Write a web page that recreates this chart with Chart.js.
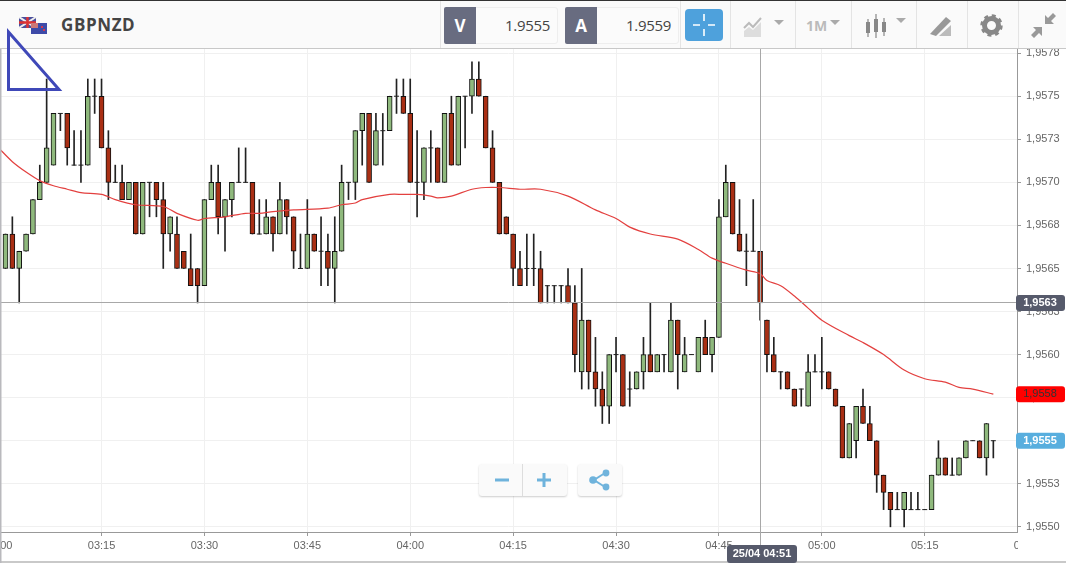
<!DOCTYPE html>
<html>
<head>
<meta charset="utf-8">
<title>GBPNZD</title>
<script src="https://cdn.jsdelivr.net/npm/chart.js@4"></script>
<style>
html, body { margin: 0; padding: 0; background: #fff; width: 1066px; height: 563px; overflow: hidden; font-family: "Open Sans", sans-serif; }
#chart { position: absolute; left: 0; top: 0; }
#topbar { position: absolute; left: 0; top: 0; width: 1066px; height: 47px; background: #fafafa; border-top: 1px solid #333; border-bottom: 1px solid #c8c8c8; box-sizing: content-box; }
.abs { position: absolute; }
.title { left: 61px; top: 12px; font-size: 17px; font-weight: 700; color: #444; letter-spacing: .6px; }
.sep { top: 0; width: 1px; height: 47px; background: #e4e4e4; }
.qbox { top: 6px; height: 35px; background: #fbfbfb; border: 1px solid #eee; border-radius: 3px; }
.qtag { top: 6px; width: 32px; height: 37px; background: #686c80; color: #fff; font-size: 17px; font-weight: 700; text-align: center; line-height: 37px; border-radius: 2px 0 0 2px; }
.qval { top: 14px; font-size: 15px; color: #444; text-align: right; letter-spacing: -.3px; }
.cross { left: 685px; top: 8px; width: 38px; height: 32px; background: #4ea1dc; border-radius: 4px; }
.btn { background: #fafafa; box-shadow: 0 1px 2px rgba(0,0,0,.2); border-radius: 3px; }
.tf { left: 806px; top: 15px; font-size: 14px; font-weight: 700; color: #bbb; }
</style>
</head>
<body>
<canvas id="chart" width="1066" height="563"></canvas>
<div id="topbar">
  <svg class="abs" style="left:19px;top:16px" width="29" height="17" viewBox="0 0 29 17">
    <rect x="0" y="0" width="17" height="11" fill="#4a4f9e"/>
    <path d="M0 0L17 11M17 0L0 11" stroke="#eee" stroke-width="2"/>
    <path d="M8.5 0V11M0 5.5H17" stroke="#d33" stroke-width="2.4"/>
    <rect x="12" y="6" width="16" height="11" fill="#3d4aa8"/>
    <rect x="12" y="6" width="7" height="5" fill="#c77"/>
    <circle cx="23" cy="10" r="1" fill="#f33"/><circle cx="25" cy="13" r="1" fill="#f33"/>
  </svg>
  <div class="abs title">GBPNZD</div>
  <div class="abs sep" style="left:440px"></div>
  <div class="abs qbox" style="left:444px;width:112px"></div>
  <div class="abs qtag" style="left:444px">V</div>
  <div class="abs qval" style="left:480px;width:70px">1.9555</div>
  <div class="abs qbox" style="left:565px;width:112px"></div>
  <div class="abs qtag" style="left:565px">A</div>
  <div class="abs qval" style="left:601px;width:70px">1.9559</div>
  <div class="abs sep" style="left:680px"></div>
  <div class="abs cross"></div>
  <svg class="abs" style="left:685px;top:8px" width="38" height="32"><path d="M19 5V12M19 20V27M8 16H15M23 16H30" stroke="#fff" stroke-width="1.6"/></svg>
  <div class="abs sep" style="left:730px"></div>
  <svg class="abs" style="left:743px;top:14px" width="45" height="22">
    <path d="M1 13L6 8L10 12L18 3" stroke="#bbb" stroke-width="2" fill="none"/>
    <path d="M1 22V16L6 12L10 15L18 7V22Z" fill="#ddd"/>
    <path d="M31 5H41L36 10Z" fill="#aaa"/>
  </svg>
  <div class="abs sep" style="left:795px"></div>
  <div class="abs tf">1M</div>
  <svg class="abs" style="left:829px;top:18px" width="14" height="8"><path d="M1 1H11L6 6Z" fill="#aaa"/></svg>
  <div class="abs sep" style="left:851px"></div>
  <svg class="abs" style="left:865px;top:12px" width="44" height="26" fill="#888">
    <rect x="1" y="9" width="4" height="11"/><rect x="2.4" y="6" width="1.2" height="18"/>
    <rect x="9" y="6" width="4" height="13"/><rect x="10.4" y="1" width="1.2" height="24"/>
    <rect x="17" y="9" width="4" height="10"/><rect x="18.4" y="5" width="1.2" height="18"/>
    <path d="M31 5H41L36 10Z" fill="#aaa"/>
  </svg>
  <div class="abs sep" style="left:916px"></div>
  <svg class="abs" style="left:929px;top:14px" width="24" height="22">
    <path d="M1 19L17 2L22 6L7 21Z" fill="#999"/><path d="M10 21L22 10V21Z" fill="#bbb"/>
  </svg>
  <div class="abs sep" style="left:967px"></div>
  <svg class="abs" style="left:980px;top:13px" width="23" height="23" viewBox="0 0 23 23">
    <circle cx="11.5" cy="11.5" r="7" fill="none" stroke="#888" stroke-width="5"/>
    <circle cx="11.5" cy="11.5" r="10" fill="none" stroke="#888" stroke-width="2.4" stroke-dasharray="4 3.85"/>
  </svg>
  <div class="abs sep" style="left:1018px"></div>
  <svg class="abs" style="left:1031px;top:12px" width="25" height="25" fill="#999">
    <path d="M14 11V2L17 5L22 0L25 3L20 8L23 11Z"/><path d="M11 14V23L8 20L3 25L0 22L5 17L2 14Z"/>
  </svg>
</div>
<svg class="abs" style="left:0;top:0" width="70" height="100">
  <path d="M8.5 32V89.5H59L8.5 32Z" fill="none" stroke="#3f48b8" stroke-width="3"/>
</svg>
<div class="abs btn" style="left:479px;top:464px;width:88px;height:32px"></div>
<div class="abs" style="left:522px;top:464px;width:1px;height:32px;background:#ddd"></div>
<svg class="abs" style="left:479px;top:464px" width="88" height="32"><path d="M16 16H30M58 16H72M65 9V23" stroke="#6fb3dc" stroke-width="3"/></svg>
<div class="abs btn" style="left:578px;top:464px;width:44px;height:32px"></div>
<svg class="abs" style="left:578px;top:464px" width="44" height="32">
  <path d="M27 9L16 16L27 23" stroke="#6fb3dc" stroke-width="2" fill="none"/>
  <circle cx="28" cy="9" r="3.4" fill="#6fb3dc"/><circle cx="15" cy="16" r="3.8" fill="#6fb3dc"/><circle cx="28" cy="23" r="3.4" fill="#6fb3dc"/>
</svg>
<script>
// one candle a minute, minutes counted from midnight
const candleMinutes = [181,182,183,184,185,186,187,188,189,190,191,192,193,194,195,196,197,198,199,200,
    201,202,203,204,205,206,207,208,209,210,211,212,213,214,215,216,217,218,219,220,
    221,222,223,224,225,226,227,228,229,230,231,232,233,234,235,236,237,238,239,240,
    241,242,243,244,245,246,247,248,249,250,251,252,253,254,255,256,257,258,259,260,
    261,262,263,264,265,266,267,268,269,270,271,272,273,274,275,276,277,278,279,280,
    281,282,283,284,285,286,287,288,289,290,291,292,293,294,295,296,297,298,299,300,
    301,302,303,304,305,306,307,308,309,310,311,312,313,314,315,316,317,318,319,320,
    321,322,323,324,325];

const opens = [1.9565,1.9567,1.9565,1.9566,1.9567,1.9569,1.9570,1.9571,1.9574,1.9574,
    1.9571,1.9571,1.9571,1.9575,1.9575,1.9572,1.9570,1.9570,1.9569,1.9570,
    1.9567,1.9570,1.9570,1.9569,1.9567,1.9567,1.9566,1.9565,1.9565,1.9564,
    1.9569,1.9570,1.9568,1.9569,1.9570,1.9570,1.9570,1.9567,1.9567,1.9568,
    1.9567,1.9569,1.9568,1.9565,1.9565,1.9567,1.9566,1.9566,1.9565,1.9566,
    1.9570,1.9570,1.9573,1.9574,1.9571,1.9573,1.9573,1.9575,1.9575,1.9574,
    1.9570,1.9570,1.9572,1.9572,1.9570,1.9574,1.9571,1.9575,1.9575,1.9576,
    1.9575,1.9572,1.9570,1.9568,1.9567,1.9565,1.9565,1.9565,1.9565,1.9564,
    1.9564,1.9564,1.9564,1.9563,1.9559,1.9562,1.9559,1.9558,1.9557,1.9560,
    1.9560,1.9558,1.9558,1.9559,1.9560,1.9559,1.9560,1.9559,1.9562,1.9559,
    1.9560,1.9559,1.9561,1.9560,1.9561,1.9568,1.9570,1.9567,1.9566,1.9566,
    1.9566,1.9562,1.9560,1.9559,1.9559,1.9558,1.9558,1.9557,1.9559,1.9559,
    1.9559,1.9558,1.9557,1.9554,1.9555,1.9557,1.9556,1.9555,1.9553,1.9552,
    1.9551,1.9551,1.9551,1.9551,1.9551,1.9551,1.9553,1.9554,1.9553,1.9553,
    1.9554,1.9555,1.9555,1.9554,1.9555];

const highs = [1.9567,1.9568,1.9566,1.9567,1.9569,1.9571,1.9576,1.9574,1.9574,1.9574,
    1.9573,1.9573,1.9576,1.9576,1.9576,1.9573,1.9571,1.9571,1.9570,1.9570,
    1.9570,1.9570,1.9570,1.9570,1.9568,1.9568,1.9566,1.9567,1.9565,1.9569,
    1.9571,1.9571,1.9569,1.9570,1.9572,1.9572,1.9570,1.9569,1.9569,1.9568,
    1.9570,1.9569,1.9568,1.9567,1.9569,1.9567,1.9568,1.9567,1.9568,1.9571,
    1.9570,1.9573,1.9574,1.9574,1.9574,1.9574,1.9575,1.9576,1.9576,1.9576,
    1.9573,1.9572,1.9573,1.9572,1.9574,1.9575,1.9575,1.9575,1.9577,1.9577,
    1.9575,1.9573,1.9570,1.9568,1.9567,1.9566,1.9567,1.9567,1.9566,1.9564,
    1.9564,1.9564,1.9565,1.9564,1.9565,1.9562,1.9561,1.9559,1.9560,1.9561,
    1.9560,1.9559,1.9559,1.9561,1.9563,1.9560,1.9560,1.9563,1.9562,1.9561,
    1.9560,1.9561,1.9562,1.9561,1.9569,1.9571,1.9570,1.9569,1.9567,1.9569,
    1.9566,1.9562,1.9561,1.9559,1.9559,1.9558,1.9558,1.9560,1.9560,1.9561,
    1.9559,1.9558,1.9557,1.9556,1.9557,1.9558,1.9557,1.9555,1.9553,1.9552,
    1.9552,1.9552,1.9552,1.9552,1.9551,1.9553,1.9555,1.9554,1.9554,1.9554,
    1.9555,1.9555,1.9555,1.9556,1.9555];

const lows = [1.9565,1.9565,1.9563,1.9566,1.9567,1.9569,1.9570,1.9571,1.9573,1.9571,
    1.9571,1.9570,1.9571,1.9574,1.9572,1.9569,1.9570,1.9569,1.9569,1.9567,
    1.9567,1.9568,1.9568,1.9565,1.9566,1.9565,1.9565,1.9564,1.9563,1.9564,
    1.9569,1.9567,1.9566,1.9568,1.9570,1.9570,1.9567,1.9567,1.9567,1.9566,
    1.9567,1.9567,1.9565,1.9565,1.9565,1.9566,1.9564,1.9564,1.9563,1.9566,
    1.9569,1.9569,1.9571,1.9570,1.9571,1.9571,1.9573,1.9574,1.9574,1.9570,
    1.9568,1.9569,1.9570,1.9570,1.9570,1.9571,1.9571,1.9572,1.9574,1.9575,
    1.9572,1.9570,1.9567,1.9567,1.9564,1.9564,1.9564,1.9564,1.9563,1.9563,
    1.9563,1.9563,1.9563,1.9559,1.9558,1.9558,1.9557,1.9556,1.9556,1.9559,
    1.9557,1.9557,1.9558,1.9558,1.9559,1.9559,1.9559,1.9559,1.9558,1.9559,
    1.9560,1.9559,1.9560,1.9559,1.9561,1.9568,1.9567,1.9566,1.9564,1.9566,
    1.9562,1.9559,1.9559,1.9558,1.9558,1.9557,1.9557,1.9557,1.9559,1.9558,
    1.9558,1.9557,1.9554,1.9554,1.9554,1.9556,1.9555,1.9552,1.9551,1.9550,
    1.9551,1.9550,1.9551,1.9551,1.9551,1.9551,1.9553,1.9553,1.9553,1.9553,
    1.9554,1.9555,1.9554,1.9553,1.9554];

const closes = [1.9567,1.9565,1.9566,1.9567,1.9569,1.9570,1.9572,1.9574,1.9574,1.9572,
    1.9571,1.9571,1.9575,1.9575,1.9572,1.9570,1.9570,1.9569,1.9570,1.9567,
    1.9570,1.9570,1.9569,1.9567,1.9568,1.9565,1.9565,1.9564,1.9564,1.9569,
    1.9570,1.9568,1.9569,1.9570,1.9570,1.9570,1.9567,1.9567,1.9568,1.9567,
    1.9569,1.9568,1.9566,1.9565,1.9567,1.9566,1.9566,1.9565,1.9566,1.9570,
    1.9570,1.9573,1.9574,1.9570,1.9573,1.9573,1.9575,1.9575,1.9574,1.9570,
    1.9570,1.9572,1.9572,1.9570,1.9574,1.9571,1.9575,1.9575,1.9576,1.9575,
    1.9572,1.9570,1.9567,1.9567,1.9565,1.9564,1.9565,1.9565,1.9563,1.9564,
    1.9564,1.9564,1.9563,1.9560,1.9562,1.9559,1.9558,1.9557,1.9560,1.9560,
    1.9557,1.9558,1.9559,1.9560,1.9559,1.9560,1.9560,1.9562,1.9560,1.9560,
    1.9560,1.9561,1.9560,1.9561,1.9568,1.9570,1.9567,1.9566,1.9566,1.9566,
    1.9563,1.9560,1.9559,1.9559,1.9558,1.9557,1.9558,1.9559,1.9559,1.9559,
    1.9558,1.9557,1.9554,1.9556,1.9557,1.9556,1.9555,1.9553,1.9552,1.9551,
    1.9551,1.9552,1.9551,1.9551,1.9551,1.9553,1.9554,1.9553,1.9553,1.9554,
    1.9555,1.9555,1.9554,1.9556,1.9555];

// moving average
const maMinutes = [180,182,184,186,188,190,192,195,197,200,204,206,209,210,213,216,218,220,223,228,
    230,232,233,237,239,241,243,244,246,249,251,253,256,259,263,267,270,272,275,279,
    282,284,286,289,291,292,294,296,298,300,304,306,309,312,315,318,320,322,325];
const maValues = [1.95720,1.95712,1.95706,1.95701,1.95698,1.95696,1.95694,1.95693,1.95690,1.95687,
    1.95686,1.95682,1.95678,1.95679,1.95680,1.95682,1.95682,1.95683,1.95684,1.95685,
    1.95687,1.95688,1.95690,1.95693,1.95693,1.95693,1.95692,1.95691,1.95692,1.95696,
    1.95697,1.95697,1.95696,1.95696,1.95692,1.95684,1.95679,1.95674,1.95670,1.95667,
    1.95661,1.95656,1.95653,1.95649,1.95647,1.95643,1.95640,1.95634,1.95627,1.95620,
    1.95611,1.95607,1.95600,1.95591,1.95586,1.95584,1.95581,1.95580,1.95577];

const xTickMinutes = [180,195,210,225,240,255,270,285,300,315,330];
const xTickLabels = ['03:00','03:15','03:30','03:45','04:00','04:15','04:30','04:45','05:00','05:15','05:30'];
const yTickValues = [1.9550,1.95525,1.9555,1.95575,1.9560,1.95625,1.9565,1.95675,1.9570,1.95725,1.9575,1.95775];
const yTickLabels = ['1,9550','1,9553','1,9555','1,9558','1,9560','1,9563','1,9565','1,9568','1,9570','1,9573','1,9575','1,9578'];

const crossMinute = 291;
const crossPrice = 1.9563;
const crossTime = '25/04 04:51';
const priceTags = [
    { value: crossPrice, text: '1,9563', bg: '#565a6b', color: '#fff', weight: 'bold' },
    { value: maValues[maValues.length - 1], text: '1,9558', bg: '#ff0000', color: '#333', weight: 'normal' },
    { value: 1.9555, text: '1,9555', bg: '#58aede', color: '#fff', weight: 'bold' }
];

const wicks = candleMinutes.map((m, i) => ({ x: m, y: [lows[i], highs[i]] }));
const isUp = i => closes[i] > opens[i];
const isDown = i => closes[i] < opens[i];
const upBodies = candleMinutes.map((m, i) => ({ x: m, y: [opens[i], closes[i]] })).filter((d, i) => isUp(i));
const downBodies = candleMinutes.map((m, i) => ({ x: m, y: [closes[i], opens[i]] })).filter((d, i) => isDown(i));
const dojis = candleMinutes.map((m, i) => ({ x: m, y: opens[i] })).filter((d, i) => !isUp(i) && !isDown(i));

function roundRect(ctx, x, y, w, h, r) {
    ctx.beginPath();
    ctx.roundRect(x, y, w, h, r);
    ctx.fill();
}

// crosshair goes over the candles, the tags over the axes
const overlay = {
    id: 'overlay',
    afterDraw(chart) {
        const ctx = chart.ctx, xs = chart.scales.x, ys = chart.scales.y, area = chart.chartArea;
        const px = Math.round(xs.getPixelForValue(crossMinute)) + 0.5;
        const py = Math.floor(ys.getPixelForValue(crossPrice)) + 0.5;
        ctx.save();
        ctx.strokeStyle = '#a8a8a8';
        ctx.lineWidth = 1;
        ctx.beginPath();
        ctx.moveTo(px, area.top); ctx.lineTo(px, 546);
        ctx.moveTo(0, py); ctx.lineTo(area.right, py);
        ctx.stroke();

        // the 05:30 label is cut off by the price axis
        ctx.fillStyle = '#fff';
        ctx.fillRect(area.right + 1, area.bottom + 1, 60, 29);
        ctx.fillStyle = '#c9c9c9';
        ctx.fillRect(0, 561, 1066, 2);
        ctx.fillStyle = '#b9b9bd';
        ctx.fillRect(0, 0, 1.5, 563);

        ctx.textBaseline = 'middle';
        ctx.textAlign = 'center';
        priceTags.forEach(t => {
            const y = ys.getPixelForValue(t.value);
            ctx.font = t.weight + ' 11px "Liberation Sans"';
            ctx.fillStyle = t.bg;
            roundRect(ctx, 1016, y - 8, 49, 16, 3);
            ctx.fillStyle = t.color;
            ctx.fillText(t.text, 1040, y);
        });
        ctx.font = 'bold 11px "Liberation Sans"';
        ctx.fillStyle = '#565a6b';
        roundRect(ctx, px - 33.5, 545, 70, 18, 3);
        ctx.fillStyle = '#fff';
        ctx.fillText(crossTime, px + 1.5, 554);
        ctx.restore();
    }
};

new Chart(document.getElementById('chart'), {
    data: {
        datasets: [
            { type: 'bar', data: wicks, backgroundColor: '#222', barThickness: 1, grouped: false, order: 4 },
            { type: 'bar', data: upBodies, backgroundColor: '#8fb97d', borderColor: '#111', borderWidth: 1, borderSkipped: false, barThickness: 5, grouped: false, order: 3 },
            { type: 'bar', data: downBodies, backgroundColor: '#a92f14', borderColor: '#111', borderWidth: 1, borderSkipped: false, barThickness: 5, grouped: false, order: 3 },
            { type: 'scatter', data: dojis, pointStyle: 'line', pointRadius: 2.5, pointBorderColor: '#222', pointBorderWidth: 1, order: 2 },
            { type: 'line', data: maMinutes.map((m, i) => ({ x: m, y: maValues[i] })), borderColor: '#e3403f', borderWidth: 1.2, pointRadius: 0, tension: 0.3, order: 1 }
        ]
    },
    plugins: [overlay],
    options: {
        responsive: false,
        animation: false,
        devicePixelRatio: 1,
        layout: { autoPadding: false, padding: { top: 48, left: 0, right: 0, bottom: 0 } },
        plugins: { legend: { display: false }, tooltip: { enabled: false } },
        scales: {
            x: {
                type: 'linear',
                offset: false,
                min: 180.2,
                max: 328.45,
                afterBuildTicks: s => { s.ticks = xTickMinutes.map(v => ({ value: v })); },
                afterFit: s => { s.height = 31; s.paddingLeft = 0; s.paddingRight = 0; },
                border: { color: '#999' },
                grid: {
                    offset: false,
                    color: c => c.tick && c.tick.value > 328 ? 'transparent' : '#f0f0f0',
                    tickColor: c => c.tick && c.tick.value > 328 ? 'transparent' : '#999',
                    tickLength: 4
                },
                ticks: {
                    autoSkip: false,
                    maxRotation: 0,
                    padding: 3,
                    color: '#666',
                    font: { family: '"Liberation Sans"', size: 11 },
                    callback: (v, i) => xTickLabels[i]
                }
            },
            y: {
                position: 'right',
                min: 1.95497,
                max: 1.95778,
                afterBuildTicks: s => { s.ticks = yTickValues.map(v => ({ value: v })); },
                afterFit: s => { s.width = 49; s.paddingTop = 0; s.paddingBottom = 0; },
                border: { color: '#999' },
                grid: { color: '#f0f0f0', tickColor: '#999', tickLength: 4 },
                ticks: {
                    padding: 5,
                    color: '#666',
                    font: { family: '"Liberation Sans"', size: 11 },
                    callback: (v, i) => yTickLabels[i]
                }
            }
        }
    }
});
</script>
</body>
</html>
